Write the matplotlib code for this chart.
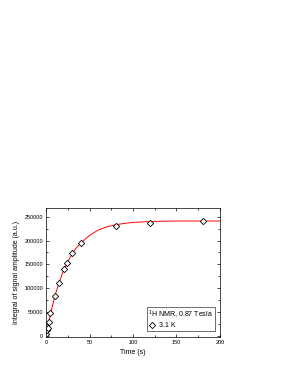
import numpy as np
import matplotlib.pyplot as plt
from matplotlib.ticker import MultipleLocator

plt.rcParams['font.family'] = ['Liberation Sans', 'DejaVu Sans']

# measured points (3.1 K)
t_data = [0.5, 1, 2, 3, 5, 10, 15, 21, 24, 30, 40, 81, 120, 180]
y_data = [3000, 12000, 17000, 30000, 48000, 83000, 112000, 141000, 152000,
          173000, 195000, 230000, 237500, 241500]

# fitted curve
t_fit = [0, 2, 5, 10, 15, 20, 25, 30, 35, 40, 50, 60, 70, 80, 90, 100, 120, 150, 200]
y_fit = [0, 19000, 45000, 83000, 112000, 137000, 156000, 172000, 185000, 195000,
         211000, 222000, 229000, 233000, 236000, 238000, 240000, 241000, 241000]

fig = plt.figure(figsize=(2.86, 3.71), dpi=100)
ax = fig.add_axes([0.161, 0.092, 0.608, 0.347])

ax.plot(t_fit, y_fit, color='red', lw=0.7)
ax.plot(t_data, y_data, ls='none', marker='D', ms=3.2, mfc='white',
        mec='black', mew=0.6, label='3.1 K')

ax.set_xlim(0, 200)
ax.set_ylim(-2000, 268000)
ax.xaxis.set_major_locator(MultipleLocator(50))
ax.xaxis.set_minor_locator(MultipleLocator(25))
ax.yaxis.set_major_locator(MultipleLocator(50000))
ax.yaxis.set_minor_locator(MultipleLocator(25000))
ax.tick_params(which='both', direction='in', top=True, right=True,
               labelsize=4, width=0.5, pad=2)
ax.tick_params(which='major', length=2.5)
ax.tick_params(which='minor', length=1.5)
for s in ax.spines.values():
    s.set_linewidth(0.5)

ax.set_xlabel('Time (s)', fontsize=5, labelpad=3)
ax.set_ylabel('Integral of signal amplitude (a.u.)', fontsize=5, labelpad=3)

leg = ax.legend(title='$^1$H NMR, 0.87 Tesla', loc='lower right',
                fontsize=5, title_fontsize=5, frameon=True, fancybox=False,
                edgecolor='black', handlelength=1.0, handletextpad=0.6,
                borderpad=0.25, labelspacing=0.1, borderaxespad=0,
                bbox_to_anchor=(0.971, 0.047))
leg.get_frame().set_linewidth(0.5)
leg._legend_box.align = 'left'
leg._legend_box.sep = 1

fig.savefig('out.png', dpi=100)
